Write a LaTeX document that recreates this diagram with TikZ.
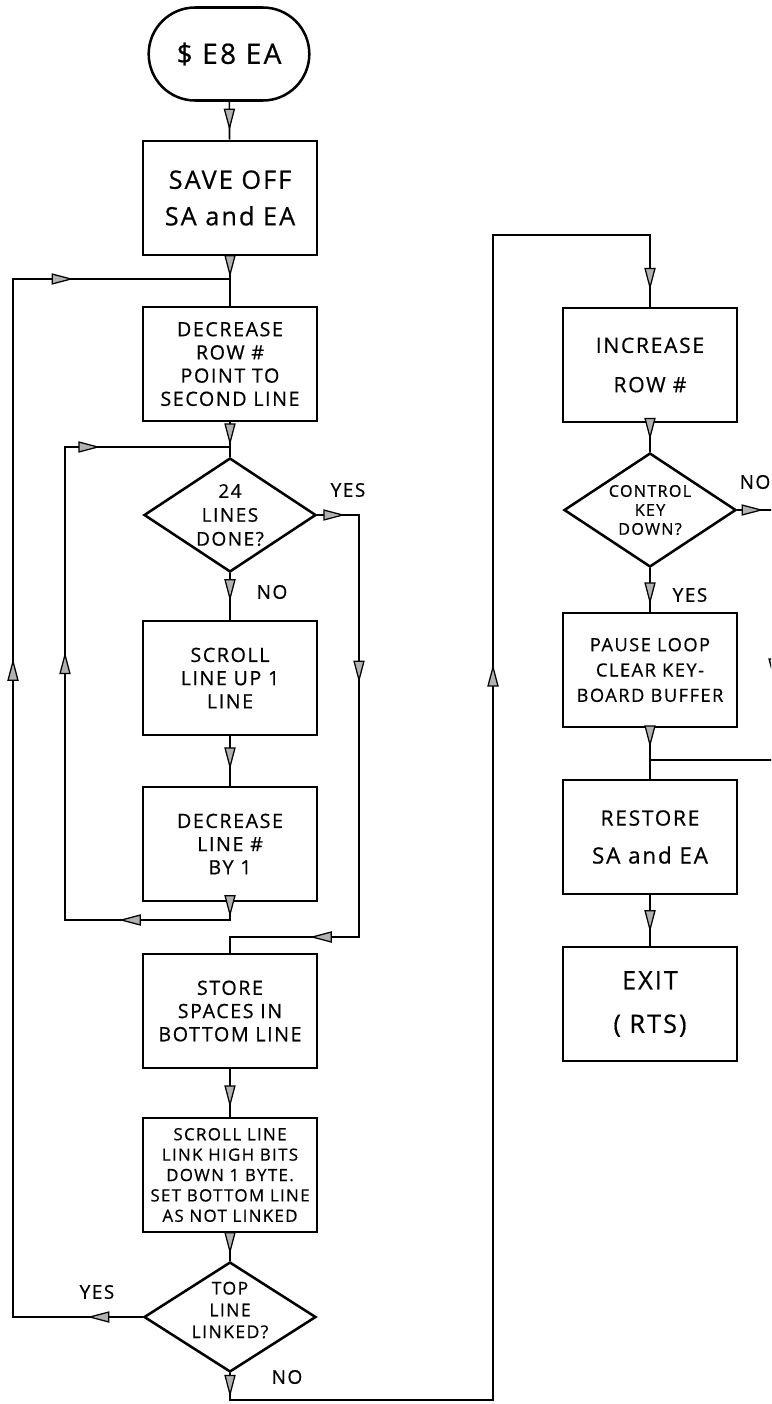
\documentclass[tikz,border=0pt]{standalone}
\usepackage{fontspec}
\setmainfont{Open Sans}[LetterSpace=8,UprightFeatures={FakeBold=0.6}]
\usetikzlibrary{arrows.meta,decorations.markings,shapes.geometric,shapes.misc}
\tikzset{
  flowtip/.tip={Triangle[length=5.5mm,width=2.8mm,fill=gray!60,line width=0.9pt]},
  midtip/.style={postaction={decorate,decoration={markings,mark=at position #1 with {\arrow{flowtip}}}}},
  procbox/.style={draw,line width=1.8pt,minimum width=43.5mm,minimum height=28.5mm,inner sep=0pt,align=center,font=\fontsize{14}{16.5}\selectfont},
  bigtext/.style={font=\fontsize{18}{21}\selectfont},
  decision/.style={diamond,draw,line width=1.8pt,inner sep=0pt,minimum width=43mm,minimum height=28.5mm},
  dtext/.style={align=center,font=\fontsize{13.5}{17}\selectfont},
  small/.style={font=\fontsize{11.5}{13.5}\selectfont},
  lbl/.style={font=\fontsize{13.5}{16}\selectfont}
}
\begin{document}
\begin{tikzpicture}[x=0.25mm,y=-0.25mm,line width=1.2pt]
\useasboundingbox (0,0) rectangle (771,1404);
\clip (0,0) rectangle (771,1404);
% left column
\node[rounded rectangle,draw,line width=1.8pt,minimum width=42.5mm,minimum height=23.25mm,font=\fontsize{20}{24}\selectfont] (start) at (229,54) {\$ E8 EA};
\node[procbox,bigtext] (save) at (230,198) {SAVE OFF\\[5pt]SA and EA};
\node[procbox] (decrow) at (230,364) {DECREASE\\ROW \#\\POINT TO\\SECOND LINE};
\node[decision,label={[dtext]center:{24\\LINES\\DONE?}}] (lines) at (230,515) {};
\node[procbox] (scroll) at (230,678) {SCROLL\\LINE UP 1\\LINE};
\node[procbox] (decline) at (230,844) {DECREASE\\LINE \#\\BY 1};
\node[procbox] (store) at (230,1011) {STORE\\SPACES IN\\BOTTOM LINE};
\node[procbox,font=\fontsize{12}{14.5}\selectfont] (link) at (230,1175) {SCROLL LINE\\LINK HIGH BITS\\DOWN 1 BYTE.\\SET BOTTOM LINE\\AS NOT LINKED};
\node[decision,minimum height=27.5mm,label={[dtext,font=\fontsize{12.5}{15.5}\selectfont,yshift=1.75mm]center:{TOP\\LINE\\LINKED?}}] (toplink) at (230,1317) {};
% right column
\node[procbox,font=\fontsize{15}{19}\selectfont] (increase) at (650,365) {INCREASE\\[9pt]ROW \#};
\node[decision,label={[dtext,small]center:{CONTROL\\KEY\\DOWN?}}] (ctrl) at (650,510) {};
\node[procbox,font=\fontsize{13}{18}\selectfont] (pause) at (650,670) {PAUSE LOOP\\CLEAR KEY-\\BOARD BUFFER};
\node[procbox,font=\fontsize{15}{19}\selectfont] (restore) at (650,837) {RESTORE\\[8pt]{\fontsize{16}{19}\selectfont SA and EA}};
\node[procbox,bigtext] (exit) at (650,1004) {EXIT\\[10pt](\,\,RTS)};
% corners of the lines
\coordinate (m1) at (230,279);
\coordinate (m2) at (230,447);
\coordinate (ilm) at (230,920);
\coordinate (ilb) at (65,920);
\coordinate (ilt) at (65,447);
\coordinate (yr1) at (359,515);
\coordinate (yr2) at (359,937);
\coordinate (m4) at (230,937);
\coordinate (olb) at (13,1317);
\coordinate (olt) at (13,279);
\coordinate (nb1) at (230,1400);
\coordinate (nb2) at (493,1400);
\coordinate (nt2) at (493,235);
\coordinate (nt1) at (650,235);
\coordinate (nr1) at (774,510);
\coordinate (nr2) at (774,760);
\coordinate (j1) at (650,760);
% labels
\node[lbl] (yes1) at (348,490) {YES};
\node[lbl] (no1) at (272,592) {NO};
\node[lbl] (yes2) at (97,1292) {YES};
\node[lbl] (no2) at (287,1377) {NO};
\node[lbl] (no3) at (755,482) {NO};
\node[lbl] (yes3) at (690,595) {YES};
% connectors
\draw[midtip=0.76] (start) -- (save);
\draw[midtip=0.92] (save) -- (m1);
\draw (m1) -- (decrow);
\draw[midtip=0.93] (decrow) -- (m2);
\draw (m2) -- (lines);
\draw[midtip=0.6] (lines) -- (scroll);
\draw[midtip=0.67] (scroll) -- (decline);
\draw[midtip=0.018,midtip=0.157,midtip=0.549,midtip=0.842] (decline.south) -- (ilm) -- (ilb) -- (ilt) -- (m2);
\draw[midtip=0.046,midtip=0.344,midtip=0.843] (lines.east) -- (yr1) -- (yr2) -- (m4) -- (store);
\draw[midtip=0.8] (store) -- (link);
\draw[midtip=0.76] (link) -- (toplink);
\draw[midtip=0.04,midtip=0.569,midtip=0.887] (toplink.west) -- (olb) -- (olt) -- (m1);
\draw[midtip=0.014,midtip=0.609,midtip=0.99] (toplink.south) -- (nb1) -- (nb2) -- (nt2) -- (nt1) -- (increase);
\draw[midtip=0.58] (increase) -- (ctrl);
\draw[midtip=0.064,midtip=0.504] (ctrl.east) -- (nr1) -- (nr2) -- (j1);
\draw[midtip=0.83] (ctrl) -- (pause);
\draw[midtip=0.6] (pause) -- (j1);
\draw (j1) -- (restore);
\draw[midtip=0.73] (restore) -- (exit);
\end{tikzpicture}
\end{document}
